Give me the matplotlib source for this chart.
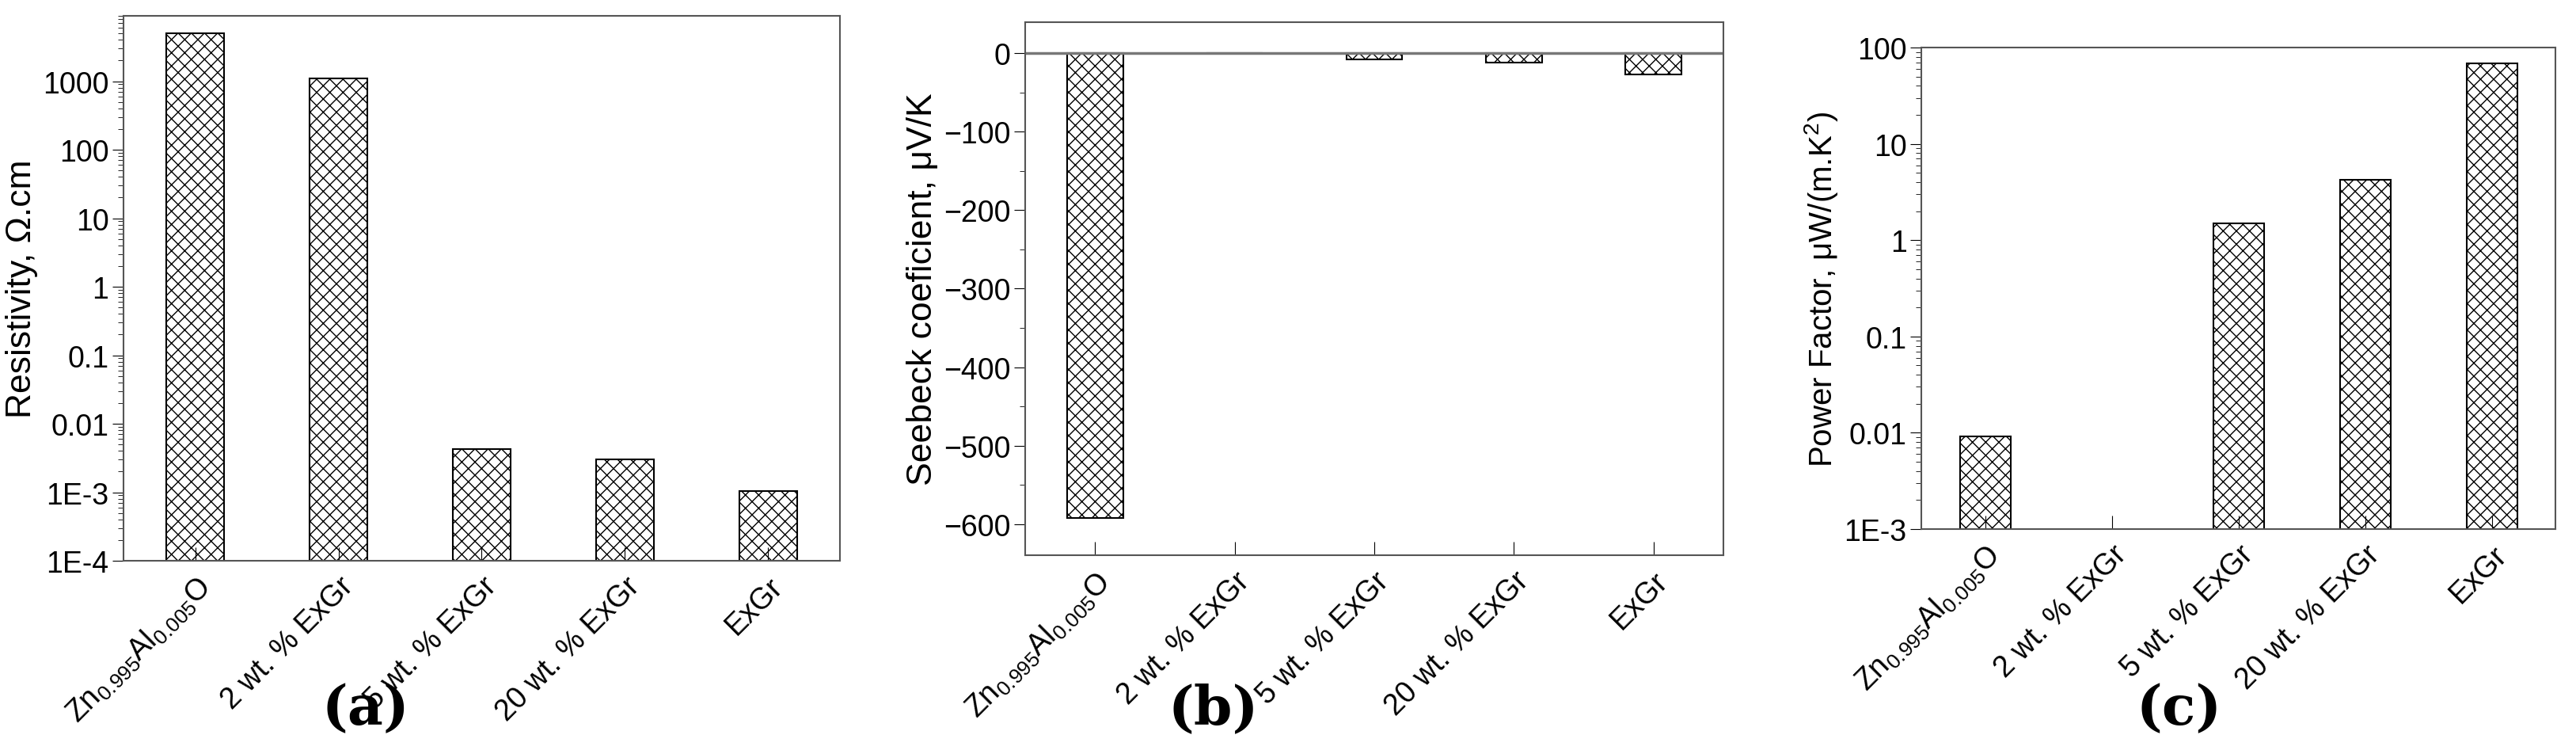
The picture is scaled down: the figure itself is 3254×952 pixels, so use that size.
import numpy as np
import matplotlib
matplotlib.use("Agg")
import matplotlib.pyplot as plt
from matplotlib.ticker import FixedLocator, FixedFormatter, LogLocator, NullFormatter, MultipleLocator

plt.rcParams["font.family"] = ["Liberation Sans", "DejaVu Sans"]
plt.rcParams["mathtext.fontset"] = "custom"
plt.rcParams["mathtext.rm"] = "Liberation Sans"
plt.rcParams["mathtext.it"] = "Liberation Sans"
plt.rcParams["hatch.color"] = "#444444"
plt.rcParams["hatch.linewidth"] = 1.0

samples = [r"Zn$_{0.995}$Al$_{0.005}$O", "2 wt. % ExGr", "5 wt. % ExGr",
           "20 wt. % ExGr", "ExGr"]
resistivity = [5000, 1100, 0.0042, 0.0029, 0.00095]
seebeck = [-592, 0, -8, -12, -27]
power_factor = [0.0082, np.nan, 1.5, 4.2, 68]

fig = plt.figure(figsize=(32.54, 9.53), dpi=100)
axa = fig.add_axes([0.048, 0.256, 0.278, 0.722])
axb = fig.add_axes([0.398, 0.263, 0.271, 0.707])
axc = fig.add_axes([0.746, 0.298, 0.246, 0.638])

x = np.arange(len(samples))
bar_kw = dict(width=0.4, color="white", edgecolor="black", hatch="xx", lw=1.5)

def style(ax):
    ax.set_xticks(x)
    ax.set_xticklabels(samples, rotation=45, ha="right", rotation_mode="anchor",
                       fontsize=27)
    ax.tick_params(axis="x", direction="in", length=12, pad=10)
    ax.tick_params(axis="y", direction="out", labelsize=27, length=10)
    ax.tick_params(axis="y", which="minor", length=5)
    ax.set_xlim(-0.5, 4.5)
    for s in ax.spines.values():
        s.set_color("#555555")
        s.set_linewidth(1.5)

# (a)
axa.bar(x, resistivity, bottom=1e-4, **bar_kw)
axa.set_yscale("log")
axa.set_ylim(1e-4, 9e3)
axa.yaxis.set_major_locator(FixedLocator([1e-4, 1e-3, 1e-2, 1e-1, 1, 10, 100, 1000]))
axa.yaxis.set_major_formatter(FixedFormatter(["1E-4", "1E-3", "0.01", "0.1", "1", "10", "100", "1000"]))
axa.yaxis.set_minor_locator(LogLocator(subs=np.arange(2, 10)))
axa.yaxis.set_minor_formatter(NullFormatter())
axa.set_ylabel("Resistivity, Ω.cm", fontsize=32)
style(axa)

# (b)
axb.bar(x, seebeck, **bar_kw)
axb.axhline(0, color="#777777", lw=2.5)
axb.set_ylim(-640, 40)
axb.yaxis.set_major_locator(MultipleLocator(100))
axb.yaxis.set_minor_locator(MultipleLocator(50))
axb.set_ylabel("Seebeck coeficient, μV/K", fontsize=32)
style(axb)

# (c)
axc.bar(x, power_factor, bottom=1e-3, **bar_kw)
axc.set_yscale("log")
axc.set_ylim(1e-3, 100)
axc.yaxis.set_major_locator(FixedLocator([1e-3, 1e-2, 1e-1, 1, 10, 100]))
axc.yaxis.set_major_formatter(FixedFormatter(["1E-3", "0.01", "0.1", "1", "10", "100"]))
axc.yaxis.set_minor_locator(LogLocator(subs=np.arange(2, 10)))
axc.yaxis.set_minor_formatter(NullFormatter())
axc.set_ylabel(r"Power Factor, μW/(m.K$^2$)", fontsize=29)
style(axc)

for xc, lab in [(0.142, "a"), (0.471, "b"), (0.846, "c")]:
    fig.text(xc, 0.025, "(" + lab + ")", fontsize=50, ha="center", va="bottom",
             family="DejaVu Serif", fontweight="bold")

fig.savefig("out.png", dpi=100)
